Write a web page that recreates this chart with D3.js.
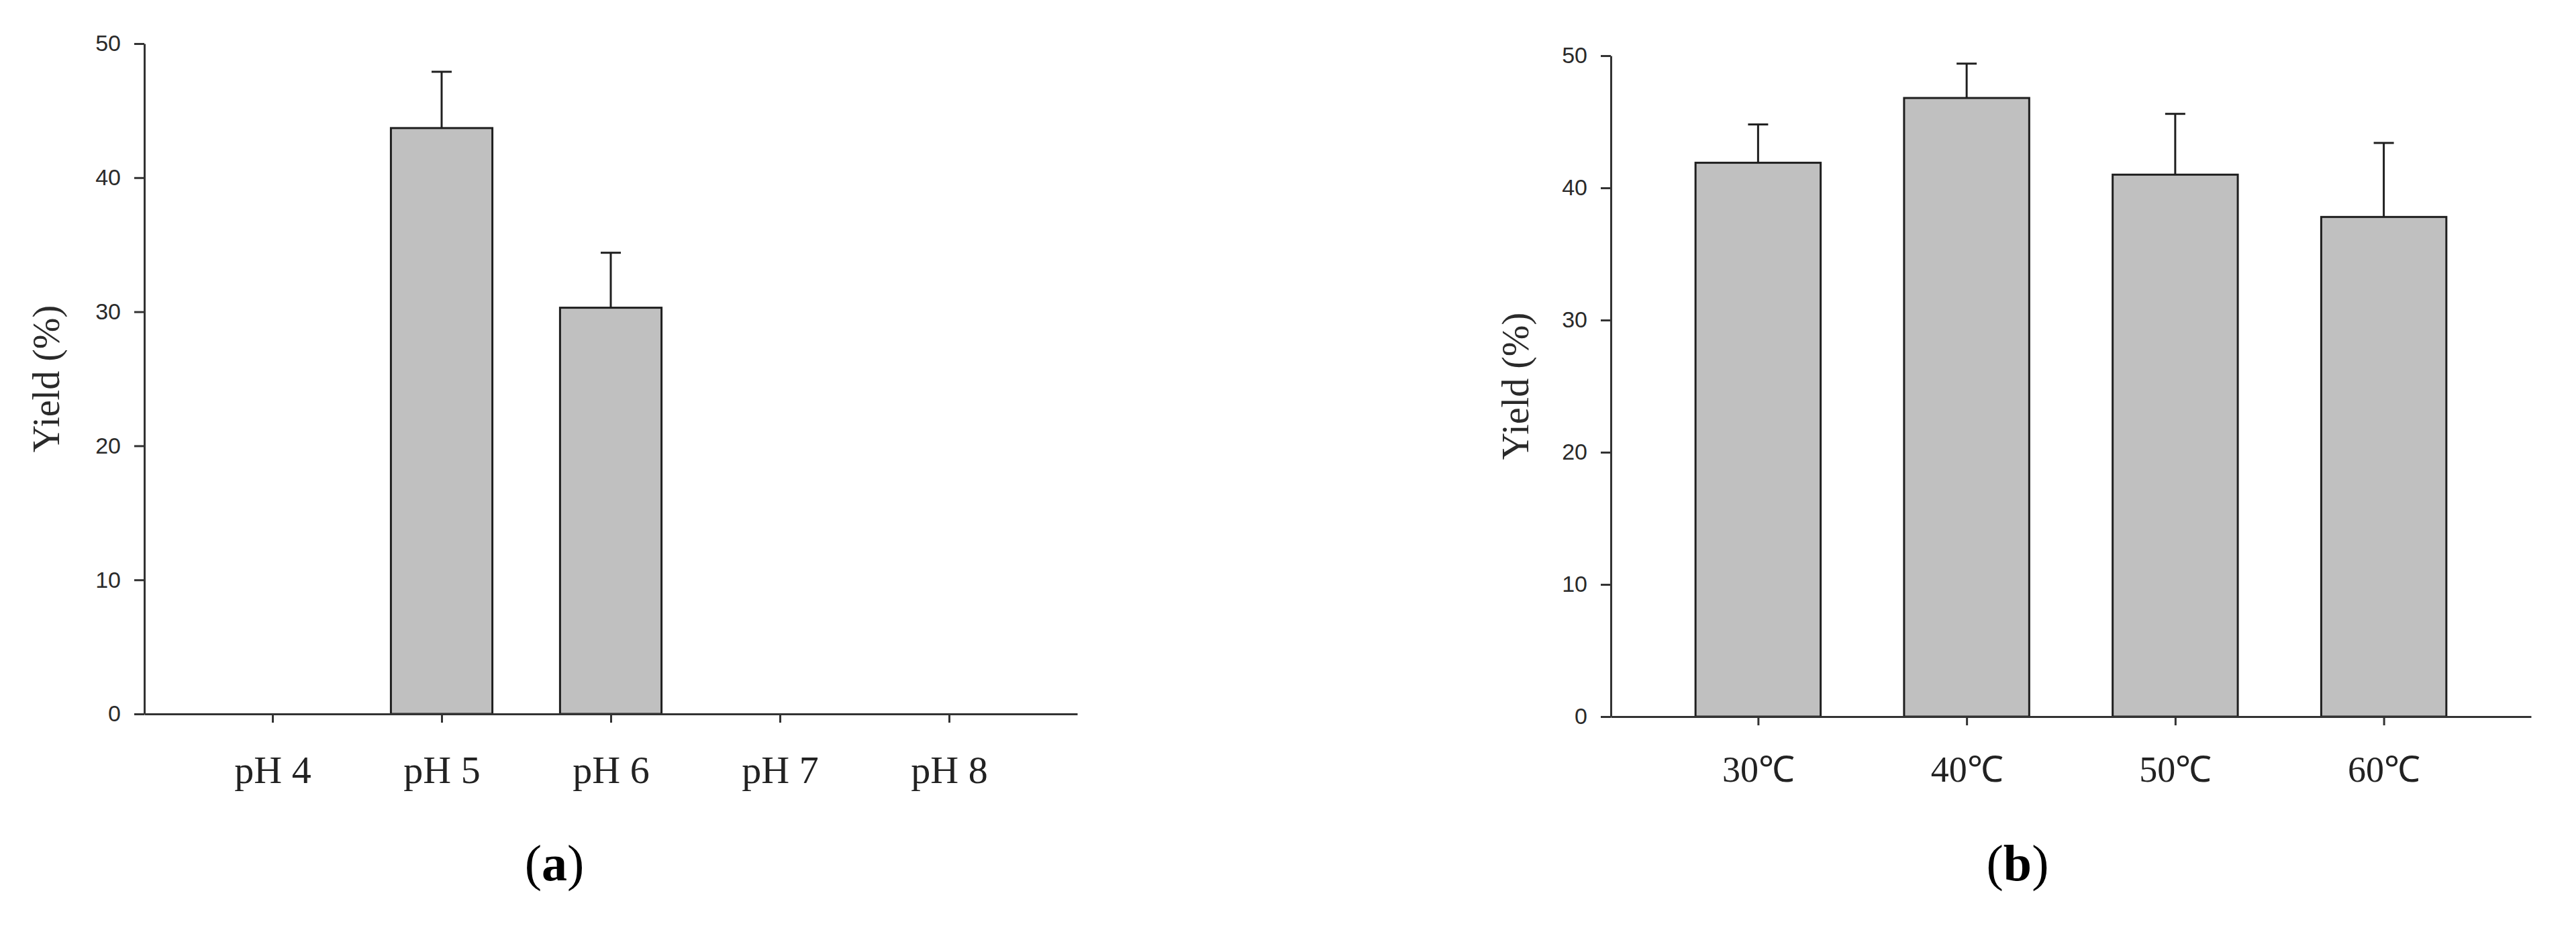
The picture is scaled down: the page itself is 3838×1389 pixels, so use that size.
<!DOCTYPE html>
<html>
<head>
<meta charset="utf-8">
<script src="https://cdn.jsdelivr.net/npm/d3@7"></script>
<style>
  body { margin: 0; background: #fff; }
  svg { display: block; }
</style>
</head>
<body>
<svg id="chart" width="3838" height="1389"></svg>
<script>
const yTicks = [0, 10, 20, 30, 40, 50];

// panel (a): pH
const phLabels = ["pH 4", "pH 5", "pH 6", "pH 7", "pH 8"];
const phYield = [0, 43.7, 30.3, 0, 0];
const phError = [0, 4.2, 4.1, 0, 0];

// panel (b): temperature
const tempLabels = ["30\u2103", "40\u2103", "50\u2103", "60\u2103"];
const tempYield = [41.9, 46.8, 41.0, 37.8];
const tempError = [2.9, 2.6, 4.6, 5.6];

const svg = d3.select("#chart");
svg.append("rect").attr("width", 3838).attr("height", 1389).attr("fill", "#fff");

function drawPanel(opts) {
    let labels = opts.labels, values = opts.values, errors = opts.errors;
    let g = svg.append("g");

    let x_scale = d3.scalePoint()
        .domain(labels)
        .range([opts.x0, opts.x1])
        .padding(opts.pad);
    let y_scale = d3.scaleLinear()
        .domain([0, 50])
        .range([opts.y0, opts.y1]);
    let bar_w = x_scale.step() * 0.6;

    let rows = labels.map((l, i) => ({ label: l, v: values[i], e: errors[i] }))
        .filter(d => d.v > 0);

    // bars
    g.append("g").selectAll("rect")
        .data(rows)
        .join("rect")
        .attr("x", d => x_scale(d.label) - bar_w / 2)
        .attr("y", d => y_scale(d.v))
        .attr("width", bar_w)
        .attr("height", d => y_scale(0) - y_scale(d.v))
        .attr("fill", "#c0c0c0")
        .attr("stroke", "#1f1f1f")
        .attr("stroke-width", 3);

    // error bars (upper only)
    let eb = g.append("g").attr("stroke", "#1f1f1f").attr("stroke-width", 3);
    eb.selectAll(".stem")
        .data(rows)
        .join("line")
        .attr("class", "stem")
        .attr("x1", d => x_scale(d.label)).attr("x2", d => x_scale(d.label))
        .attr("y1", d => y_scale(d.v)).attr("y2", d => y_scale(d.v + d.e));
    eb.selectAll(".cap")
        .data(rows)
        .join("line")
        .attr("class", "cap")
        .attr("x1", d => x_scale(d.label) - 15).attr("x2", d => x_scale(d.label) + 15)
        .attr("y1", d => y_scale(d.v + d.e)).attr("y2", d => y_scale(d.v + d.e));

    // y axis
    let y_axis = d3.axisLeft(y_scale).tickValues(yTicks).tickSize(15).tickSizeOuter(0).tickPadding(20);
    let yg = g.append("g").attr("transform", `translate(${opts.x0},0)`).call(y_axis);
    yg.select(".domain").attr("stroke", "#333").attr("stroke-width", 3);
    yg.selectAll(".tick line").attr("stroke", "#333").attr("stroke-width", 3);
    yg.selectAll(".tick text")
        .attr("fill", "#2a2a2a")
        .style("font-family", "'Liberation Sans', Arial, sans-serif")
        .style("font-size", "34px");

    // x axis
    let x_axis = d3.axisBottom(x_scale).tickSize(13).tickSizeOuter(0);
    let xg = g.append("g").attr("transform", `translate(0,${opts.y0})`).call(x_axis);
    xg.select(".domain").attr("stroke", "#333").attr("stroke-width", 3);
    xg.selectAll(".tick line").attr("stroke", "#333").attr("stroke-width", 3);
    xg.selectAll(".tick text")
        .attr("y", opts.labelY - opts.y0)
        .attr("dy", 0)
        .attr("fill", "#222")
        .style("font-family", "'Liberation Serif', 'Times New Roman', serif")
        .style("font-size", opts.labelSize + "px");

    // y title
    g.append("text")
        .attr("transform", `translate(${opts.titleX},${(opts.y0 + opts.y1) / 2}) rotate(-90)`)
        .attr("text-anchor", "middle")
        .attr("fill", "#2a2a2a")
        .style("font-family", "'Liberation Serif', 'Times New Roman', serif")
        .style("font-size", "56px")
        .text("Yield (%)");

    // panel letter
    let lt = g.append("text")
        .attr("x", opts.letterX)
        .attr("y", 1312)
        .attr("text-anchor", "middle")
        .attr("fill", "#000")
        .style("font-family", "'Liberation Serif', 'Times New Roman', serif")
        .style("font-size", "76px");
    lt.append("tspan").text("(");
    lt.append("tspan").attr("font-weight", "bold").text(opts.letter);
    lt.append("tspan").text(")");
}

drawPanel({
    labels: phLabels, values: phYield, errors: phError,
    x0: 215, x1: 1605, pad: 0.758, y0: 1064, y1: 65,
    labelY: 1167, labelSize: 58, titleX: 88, letter: "a", letterX: 826
});

drawPanel({
    labels: tempLabels, values: tempYield, errors: tempError,
    x0: 2400, x1: 3771, pad: 0.706, y0: 1068, y1: 83,
    labelY: 1165, labelSize: 54, titleX: 2277, letter: "b", letterX: 3006
});
</script>
</body>
</html>
